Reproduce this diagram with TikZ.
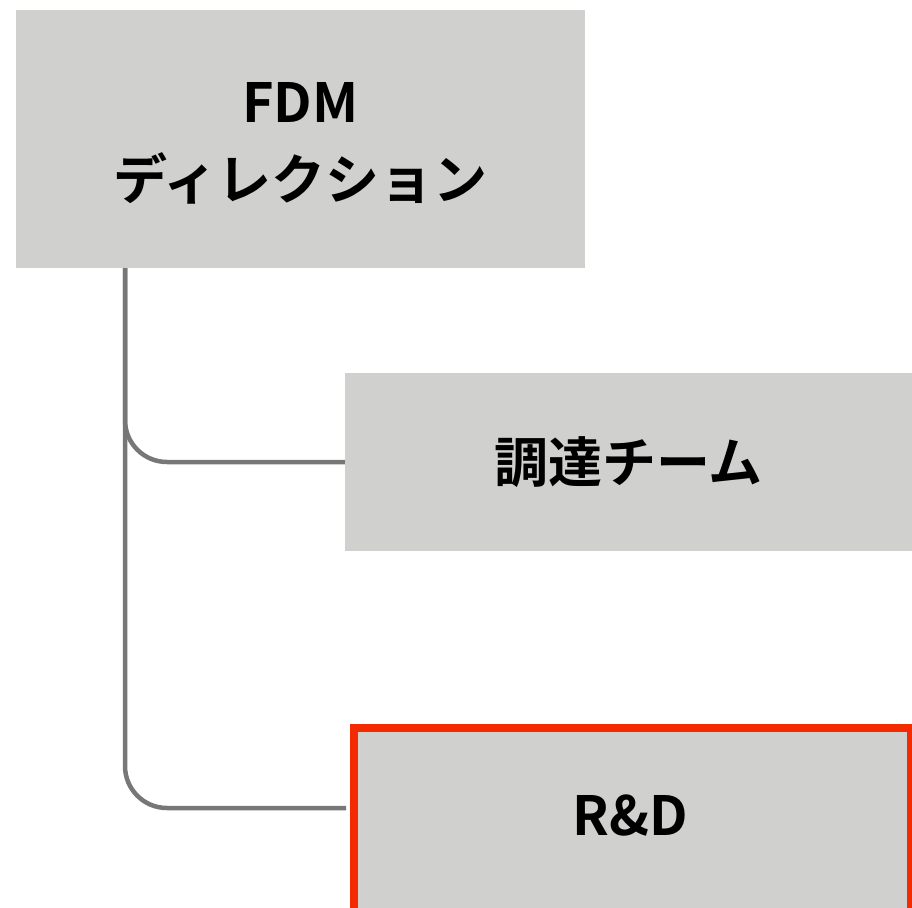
\documentclass[tikz,border=0pt]{standalone}
\usepackage{fontspec}
\setmainfont{Noto Sans CJK JP}[BoldFont={Noto Sans CJK JP Bold}]
\definecolor{boxgray}{HTML}{D0D0CE}
\definecolor{linegray}{HTML}{777777}
\definecolor{hired}{HTML}{F42A00}
\begin{document}
\begin{tikzpicture}[x=1pt,y=-1pt,
  box/.style={fill=boxgray, draw=none, rectangle, inner sep=0pt, align=center,
    font=\fontsize{54}{77}\selectfont\bfseries},
  conn/.style={draw=linegray, line width=4.5pt, rounded corners=42pt}]
\useasboundingbox (0,0) rectangle (912,907);
\clip (0,0) rectangle (912,907);
\node[box, minimum width=569pt, minimum height=258pt] (top) at (300.5,139) {};
\node[align=center, font=\fontsize{54}{77}\selectfont\bfseries] (toptext) at (300.5,143) {FDM\\ディレクション};
\node[box, minimum width=567pt, minimum height=178pt] (proc) at (628.5,462) {調達チーム};
\node[box, draw=hired, line width=8pt, minimum width=557pt, minimum height=188pt, anchor=north west] (rd) at (350,724) {};
\node[font=\fontsize{54}{76}\selectfont\bfseries] (rdt) at (630,816) {R\&D};
\coordinate (s) at (125,268);
\coordinate (rdj) at (346,808);
\draw[conn] (s) |- (proc.west);
\draw[conn] (s) |- (rdj);
\end{tikzpicture}
\end{document}
